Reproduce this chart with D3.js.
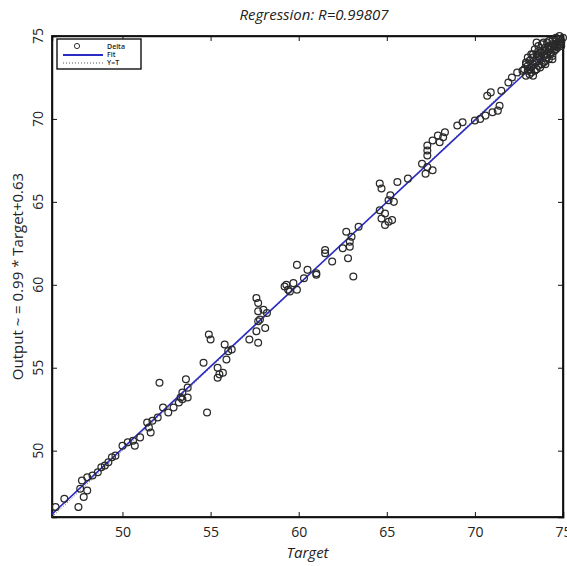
<!DOCTYPE html>
<html>
<head>
<meta charset="utf-8">
<script src="https://cdn.jsdelivr.net/npm/d3@7"></script>
<style>
  body { margin: 0; background: #fff; }
  text { font-family: "Open Sans", sans-serif; }
</style>
</head>
<body>
<div id="chart"></div>
<script>
// target values and network outputs
var targets = [
  46.2, 46.7, 47.5, 47.8, 47.6, 48.0, 47.7, 48.0, 48.3, 48.6, 48.8, 49.0, 49.2, 49.4, 49.6,
  50.0, 50.3, 50.7, 50.6, 51.0, 51.4, 51.6, 51.5, 51.7, 52.0, 52.3, 52.6, 52.9, 53.2, 53.4, 53.7,
  52.1, 54.8, 53.6, 53.7, 53.4, 53.3, 54.6, 54.9, 55.0, 55.4, 55.5, 55.4, 55.8, 56.0, 55.9, 56.2, 55.7,
  57.2, 57.7, 57.6, 57.7, 57.7, 58.0, 57.8, 58.1, 57.6, 58.2, 57.7,
  59.3, 59.7, 59.9, 59.4, 59.9, 60.5, 61.0, 59.2, 59.5, 60.3,
  63.1, 62.8, 62.9, 62.5, 62.7, 63.0, 62.9, 63.4, 61.5, 61.5, 61.9, 61.0,
  64.6, 64.7, 65.6, 65.2, 65.1, 65.4, 64.6, 64.9, 64.7, 65.1, 64.9, 65.3,
  66.2, 67.0, 67.3, 67.2, 67.6, 67.3, 67.3, 67.3, 67.9, 68.2, 68.0, 67.6, 68.3,
  69.0, 69.3, 70.0, 70.3, 70.6, 71.0, 71.3, 71.4, 70.7, 70.9, 71.5, 71.9, 72.1, 72.4, 72.7,
  72.8, 72.9, 73.0, 73.1, 73.2, 73.3, 73.3, 73.4, 73.5, 73.5, 73.6, 73.7, 73.7, 73.8, 73.9,
  73.9, 74.0, 74.0, 74.1, 74.2, 74.2, 74.3, 74.3, 74.4, 74.5, 74.5, 74.6, 74.6, 74.7, 74.7,
  74.8, 74.9, 75.0, 74.9, 73.0, 73.2, 73.4, 73.6, 73.1, 72.9, 73.8, 74.1, 73.5, 74.4, 73.3,
  73.2, 73.4, 73.6, 73.8, 74.0, 74.2, 74.4, 74.6, 74.8, 73.7, 73.9, 74.1, 74.3, 74.5,
  74.7, 74.9, 73.5, 73.0, 73.3, 73.6, 73.9, 74.2, 74.6, 74.8, 72.9, 73.1, 74.0, 74.4
];
var outputs = [
  46.6, 47.1, 46.6, 47.2, 47.7, 47.6, 48.2, 48.4, 48.5, 48.7, 49.0, 49.1, 49.3, 49.6, 49.7,
  50.3, 50.5, 50.3, 50.6, 50.8, 51.7, 51.1, 51.4, 51.8, 52.0, 52.6, 52.3, 52.6, 52.9, 53.1, 53.2,
  54.1, 52.3, 54.3, 53.8, 53.5, 53.2, 55.3, 57.0, 56.7, 55.0, 54.6, 54.4, 56.4, 56.0, 55.5, 56.1, 54.7,
  56.7, 56.5, 59.2, 58.9, 58.4, 58.5, 57.9, 57.4, 57.2, 58.3, 57.8,
  60.0, 60.1, 59.7, 59.7, 61.2, 60.9, 60.6, 59.9, 59.6, 60.4,
  60.5, 61.6, 62.3, 62.2, 63.2, 62.9, 62.6, 63.5, 62.1, 61.9, 61.4, 60.7,
  66.1, 65.8, 66.2, 65.4, 65.1, 65.0, 64.5, 64.3, 64.0, 63.8, 63.6, 63.9,
  66.4, 67.3, 67.1, 66.7, 66.9, 67.8, 68.4, 68.1, 69.0, 68.9, 68.6, 68.7, 69.2,
  69.6, 69.8, 69.9, 70.0, 70.2, 70.4, 70.5, 70.8, 71.4, 71.6, 71.7, 72.2, 72.5, 72.8, 72.9,
  73.0, 73.3, 72.9, 73.5, 73.1, 73.7, 73.3, 72.9, 73.9, 73.5, 73.2, 74.0, 73.6, 73.3, 74.1,
  73.8, 73.5, 74.3, 73.9, 74.2, 73.6, 74.4, 74.0, 73.8, 74.4, 74.1, 74.5, 74.2, 74.6, 74.3,
  74.5, 74.7, 74.9, 74.4, 73.7, 73.9, 74.2, 74.4, 72.7, 72.6, 74.5, 74.6, 74.6, 74.7, 72.6,
  72.8, 73.4, 73.8, 74.0, 74.1, 74.4, 74.5, 74.7, 74.8, 73.1, 73.4, 73.7, 73.9, 74.3,
  74.4, 74.6, 73.0, 73.2, 73.9, 74.1, 74.6, 74.7, 74.9, 75.0, 73.4, 73.0, 73.3, 73.6
];
var ticks = [50, 55, 60, 65, 70, 75];
var slope = 0.99, intercept = 0.63;
var legendLabels = ["Delta", "Fit", "Y=T"];

var width = 567, height = 566;
var margin = {top: 36, right: 4, bottom: 49, left: 52};

var svg = d3.select("#chart").append("svg")
    .attr("width", width)
    .attr("height", height);

var x = d3.scaleLinear()
    .domain([46, 75])
    .range([margin.left, width - margin.right]);

var y = d3.scaleLinear()
    .domain([46, 75])
    .range([height - margin.bottom, margin.top]);

var plotW = width - margin.right - margin.left;
var plotH = height - margin.bottom - margin.top;

// axes with inward ticks on every side
svg.append("g")
    .attr("transform", "translate(0," + (height - margin.bottom) + ")")
    .call(d3.axisBottom(x).tickValues(ticks).tickSize(-5).tickPadding(10))
    .call(function(g) { g.selectAll("text").style("font-size", "14px").attr("fill", "#222"); });

svg.append("g")
    .attr("transform", "translate(0," + margin.top + ")")
    .call(d3.axisTop(x).tickValues(ticks).tickSize(-5).tickFormat(""));

svg.append("g")
    .attr("transform", "translate(" + margin.left + ",0)")
    .call(d3.axisLeft(y).tickValues(ticks).tickSize(-5).tickFormat(""));

svg.append("g")
    .attr("transform", "translate(" + (width - margin.right) + ",0)")
    .call(d3.axisRight(y).tickValues(ticks).tickSize(-5).tickFormat(""));

// rotated y tick labels
svg.append("g").selectAll("text")
    .data(ticks)
    .enter().append("text")
    .attr("transform", function(d) { return "translate(38," + y(d) + ") rotate(-90)"; })
    .attr("text-anchor", "middle")
    .attr("dy", "0.35em")
    .style("font-size", "14px")
    .attr("fill", "#222")
    .text(function(d) { return d; });

svg.selectAll(".domain").attr("stroke", "#111").attr("stroke-width", 1.5);
svg.selectAll(".tick line").attr("stroke", "#111");

svg.append("rect")
    .attr("x", margin.left).attr("y", margin.top)
    .attr("width", plotW).attr("height", plotH)
    .attr("fill", "none").attr("stroke", "#111").attr("stroke-width", 1.8);

// Y=T dotted line
svg.append("line")
    .attr("x1", x(46)).attr("y1", y(46))
    .attr("x2", x(75)).attr("y2", y(75))
    .attr("stroke", "#555").attr("stroke-width", 1)
    .attr("stroke-dasharray", "1,2");

// fit line
svg.append("line")
    .attr("x1", x(46)).attr("y1", y(slope * 46 + intercept))
    .attr("x2", x(75)).attr("y2", y(slope * 75 + intercept))
    .attr("stroke", "#2a2ac4").attr("stroke-width", 1.6);

// data circles
svg.append("g")
    .selectAll("circle")
    .data(d3.range(targets.length))
    .enter().append("circle")
    .attr("cx", function(i) { return x(targets[i]); })
    .attr("cy", function(i) { return y(outputs[i]); })
    .attr("r", 3.4)
    .attr("fill", "none")
    .attr("stroke", "#2a2a2a")
    .attr("stroke-width", 1.25);

// title and axis labels
svg.append("text")
    .attr("x", 314).attr("y", 20)
    .attr("text-anchor", "middle")
    .style("font-size", "15px").style("font-style", "italic")
    .attr("fill", "#222")
    .text("Regression: R=0.99807");

svg.append("text")
    .attr("x", margin.left + plotW / 2).attr("y", 558)
    .attr("text-anchor", "middle")
    .style("font-size", "15px").style("font-style", "italic")
    .attr("fill", "#222")
    .text("Target");

svg.append("text")
    .attr("transform", "translate(18," + (margin.top + plotH / 2) + ") rotate(-90)")
    .attr("text-anchor", "middle")
    .attr("dy", "0.35em")
    .style("font-size", "15px")
    .attr("fill", "#222")
    .text("Output ~ = 0.99 * Target+0.63");

// legend
var lg = svg.append("g").attr("transform", "translate(57,39)");
lg.append("rect")
    .attr("width", 84).attr("height", 30)
    .attr("fill", "#fff").attr("stroke", "#111").attr("stroke-width", 1.4);
lg.append("circle").attr("cx", 20).attr("cy", 7).attr("r", 2.6)
    .attr("fill", "none").attr("stroke", "#333");
lg.append("line").attr("x1", 6).attr("x2", 46).attr("y1", 16).attr("y2", 16)
    .attr("stroke", "#2a2ac4").attr("stroke-width", 2);
lg.append("line").attr("x1", 6).attr("x2", 46).attr("y1", 24).attr("y2", 24)
    .attr("stroke", "#555").attr("stroke-dasharray", "1,2");
lg.selectAll("text.lab")
    .data(legendLabels)
    .enter().append("text")
    .attr("x", 50)
    .attr("y", function(d, i) { return 9.5 + i * 8; })
    .style("font-size", "7px")
    .style("font-weight", "600")
    .attr("fill", "#222")
    .text(function(d) { return d; });
</script>
</body>
</html>
